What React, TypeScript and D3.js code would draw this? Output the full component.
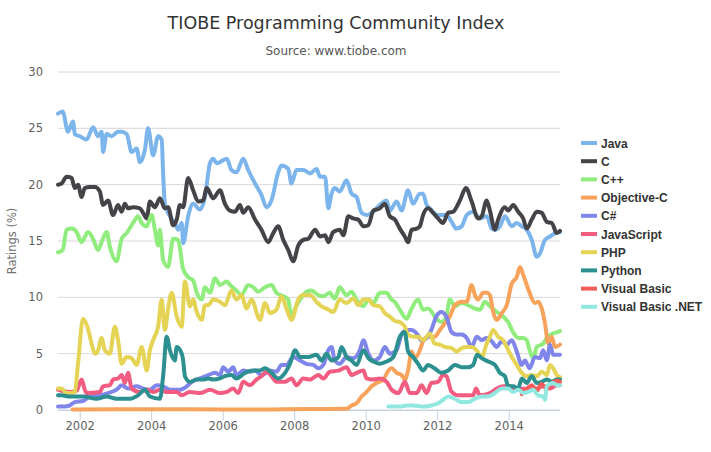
import * as d3 from 'd3';

// TIOBE ratings (%), [decimal year, rating]
const yearTicks = [2002, 2004, 2006, 2008, 2010, 2012, 2014];
const ratingTicks = [0, 5, 10, 15, 20, 25, 30];

const java: [number, number][] = [
  [2001.38, 26.3], [2001.51, 26.5], [2001.66, 24.7], [2001.8, 25.6], [2001.85, 24.5], [2001.99, 24.3], [2002.18, 24.0],
  [2002.36, 25.1], [2002.5, 24.3], [2002.6, 24.7], [2002.64, 22.9], [2002.74, 24.5], [2002.88, 24.3], [2003.06, 24.7],
  [2003.16, 24.7], [2003.3, 24.5], [2003.44, 22.9], [2003.58, 23.2], [2003.67, 22.0], [2003.81, 23.1], [2003.9, 25.0],
  [2004.04, 22.6], [2004.18, 24.3], [2004.28, 24.0], [2004.32, 21.0], [2004.37, 18.3], [2004.51, 17.2], [2004.65, 16.6],
  [2004.74, 16.0], [2004.84, 16.6], [2004.88, 14.8], [2005.02, 17.2], [2005.16, 18.3], [2005.35, 17.8], [2005.49, 18.9],
  [2005.63, 21.9], [2005.72, 22.3], [2005.82, 21.9], [2006.1, 22.3], [2006.23, 21.3], [2006.37, 21.1], [2006.56, 22.3],
  [2006.7, 21.3], [2006.89, 20.1], [2007.07, 19.1], [2007.21, 18.0], [2007.35, 18.6], [2007.54, 21.1], [2007.63, 21.7],
  [2007.82, 21.4], [2007.91, 20.1], [2008.05, 21.3], [2008.24, 21.3], [2008.43, 21.0], [2008.61, 21.4], [2008.71, 20.7],
  [2008.85, 20.7], [2008.94, 17.9], [2009.03, 19.2], [2009.12, 19.7], [2009.26, 19.4], [2009.45, 20.4], [2009.59, 19.2],
  [2009.73, 18.9], [2009.87, 17.5], [2010.01, 17.3], [2010.2, 17.6], [2010.38, 18.2], [2010.57, 18.6], [2010.66, 17.7],
  [2010.85, 18.5], [2010.99, 17.7], [2011.17, 19.5], [2011.31, 18.3], [2011.5, 19.2], [2011.59, 19.2], [2011.69, 18.2],
  [2011.78, 17.9], [2012.01, 17.3], [2012.24, 17.3], [2012.39, 16.7], [2012.52, 16.1], [2012.67, 16.3], [2012.81, 17.3],
  [2012.99, 17.6], [2013.18, 17.0], [2013.37, 17.2], [2013.51, 16.1], [2013.6, 16.0], [2013.74, 16.3], [2013.88, 17.2],
  [2014.07, 16.3], [2014.21, 16.6], [2014.35, 16.3], [2014.49, 16.0], [2014.63, 15.1], [2014.77, 13.6], [2014.86, 13.9],
  [2015.0, 15.1], [2015.14, 15.4], [2015.28, 15.7], [2015.42, 15.8]
];

const c: [number, number][] = [
  [2001.38, 20.0], [2001.48, 20.1], [2001.62, 20.7], [2001.76, 20.6], [2001.85, 19.7], [2001.94, 20.0], [2002.04, 18.9],
  [2002.13, 19.7], [2002.27, 19.8], [2002.41, 19.8], [2002.55, 19.4], [2002.64, 18.2], [2002.78, 18.6], [2002.92, 17.3],
  [2003.06, 18.2], [2003.16, 17.6], [2003.25, 18.3], [2003.34, 17.9], [2003.48, 18.0], [2003.67, 17.9], [2003.76, 17.5],
  [2003.86, 17.0], [2003.95, 18.5], [2004.09, 18.0], [2004.23, 18.8], [2004.37, 17.9], [2004.46, 18.0], [2004.6, 16.4],
  [2004.7, 16.9], [2004.79, 18.2], [2004.88, 18.0], [2005.02, 20.6], [2005.16, 19.5], [2005.3, 18.5], [2005.44, 18.6],
  [2005.54, 19.7], [2005.72, 18.8], [2005.91, 19.5], [2006.05, 18.3], [2006.19, 17.7], [2006.33, 17.6], [2006.47, 18.2],
  [2006.56, 17.5], [2006.7, 18.0], [2006.89, 16.9], [2007.07, 16.0], [2007.26, 14.9], [2007.4, 15.7], [2007.54, 16.3],
  [2007.68, 15.1], [2007.82, 14.2], [2007.96, 13.2], [2008.1, 14.6], [2008.24, 15.1], [2008.38, 15.2], [2008.57, 16.0],
  [2008.71, 15.4], [2008.85, 15.5], [2008.94, 14.9], [2009.08, 15.8], [2009.26, 16.0], [2009.36, 15.5], [2009.5, 17.2],
  [2009.64, 17.0], [2009.78, 16.9], [2009.92, 16.3], [2010.06, 16.4], [2010.2, 17.7], [2010.38, 17.9], [2010.52, 18.3],
  [2010.66, 17.2], [2010.8, 16.9], [2010.94, 16.1], [2011.08, 15.4], [2011.17, 14.9], [2011.27, 16.0], [2011.41, 16.1],
  [2011.5, 16.3], [2011.59, 17.3], [2011.73, 17.9], [2011.87, 17.5], [2012.01, 17.0], [2012.15, 16.6], [2012.29, 17.5],
  [2012.43, 17.6], [2012.62, 18.6], [2012.79, 19.7], [2012.95, 18.5], [2013.13, 17.0], [2013.23, 17.2], [2013.37, 18.6],
  [2013.46, 17.7], [2013.6, 16.0], [2013.69, 16.9], [2013.88, 18.0], [2013.97, 17.7], [2014.11, 18.2], [2014.25, 17.6],
  [2014.39, 17.0], [2014.49, 16.1], [2014.63, 16.9], [2014.77, 17.6], [2014.91, 17.5], [2015.05, 16.7], [2015.19, 16.6],
  [2015.33, 15.7], [2015.42, 15.9]
];

const cpp: [number, number][] = [
  [2001.38, 14.0], [2001.51, 14.2], [2001.62, 16.0], [2001.76, 16.1], [2001.9, 15.8], [2002.04, 14.9], [2002.22, 15.8],
  [2002.36, 15.2], [2002.5, 14.2], [2002.6, 14.9], [2002.74, 15.8], [2002.83, 14.5], [2003.02, 13.2], [2003.16, 15.2],
  [2003.3, 15.7], [2003.48, 16.6], [2003.62, 17.2], [2003.72, 16.6], [2003.86, 16.3], [2004.0, 17.3], [2004.09, 16.0],
  [2004.18, 14.6], [2004.23, 16.0], [2004.32, 13.3], [2004.46, 12.7], [2004.6, 15.2], [2004.74, 15.1], [2004.88, 12.5],
  [2005.02, 11.8], [2005.16, 11.5], [2005.26, 10.4], [2005.4, 9.8], [2005.49, 10.9], [2005.63, 10.4], [2005.77, 11.7],
  [2005.91, 11.1], [2006.1, 11.4], [2006.19, 11.1], [2006.37, 10.6], [2006.51, 10.2], [2006.7, 11.1], [2006.84, 10.9],
  [2006.98, 10.5], [2007.17, 10.9], [2007.35, 11.1], [2007.49, 10.4], [2007.68, 10.1], [2007.82, 9.8], [2007.91, 8.1],
  [2008.01, 9.0], [2008.15, 9.8], [2008.33, 10.5], [2008.47, 10.6], [2008.66, 10.2], [2008.8, 10.1], [2008.98, 10.4],
  [2009.12, 9.9], [2009.26, 10.9], [2009.45, 10.2], [2009.59, 10.5], [2009.73, 9.8], [2009.92, 9.2], [2010.06, 9.8],
  [2010.2, 9.5], [2010.38, 10.4], [2010.57, 10.4], [2010.71, 9.8], [2010.8, 9.6], [2010.94, 8.9], [2011.13, 8.1],
  [2011.27, 9.0], [2011.45, 9.8], [2011.59, 8.9], [2011.73, 9.0], [2011.96, 8.1], [2012.1, 7.8], [2012.24, 8.3],
  [2012.34, 9.8], [2012.48, 9.2], [2012.67, 9.5], [2012.85, 9.3], [2013.04, 9.0], [2013.18, 8.9], [2013.32, 9.6],
  [2013.46, 9.2], [2013.65, 8.7], [2013.83, 8.3], [2013.97, 7.8], [2014.11, 6.9], [2014.25, 6.4], [2014.39, 6.4],
  [2014.49, 6.2], [2014.57, 5.3], [2014.67, 4.6], [2014.77, 5.6], [2014.95, 5.9], [2015.05, 6.4], [2015.23, 6.8],
  [2015.33, 6.9], [2015.42, 7.0]
];

const objectiveC: [number, number][] = [
  [2001.79, 0.05], [2003.0, 0.06], [2005.0, 0.06], [2007.0, 0.05], [2008.5, 0.08], [2009.45, 0.1], [2009.59, 0.4],
  [2009.73, 0.6], [2009.87, 1.2], [2010.01, 1.6], [2010.15, 2.1], [2010.29, 2.4], [2010.48, 2.7], [2010.62, 3.5],
  [2010.71, 3.7], [2010.85, 3.3], [2010.99, 3.1], [2011.08, 2.7], [2011.17, 3.5], [2011.27, 5.2], [2011.36, 4.6],
  [2011.5, 5.3], [2011.59, 6.1], [2011.73, 6.5], [2011.91, 6.5], [2012.06, 7.1], [2012.2, 7.7], [2012.34, 8.3],
  [2012.48, 9.3], [2012.67, 9.6], [2012.81, 9.6], [2012.95, 11.1], [2013.04, 10.2], [2013.13, 9.8], [2013.27, 10.4],
  [2013.37, 10.4], [2013.46, 10.2], [2013.55, 8.7], [2013.65, 8.0], [2013.79, 8.6], [2013.93, 9.3], [2014.07, 11.2],
  [2014.21, 11.8], [2014.3, 12.7], [2014.39, 12.0], [2014.49, 11.1], [2014.57, 10.4], [2014.72, 9.5], [2014.81, 9.6],
  [2014.91, 9.0], [2015.0, 7.7], [2015.09, 5.9], [2015.19, 6.5], [2015.28, 5.6], [2015.42, 5.8]
];

const cSharp: [number, number][] = [
  [2001.38, 0.3], [2001.48, 0.3], [2001.66, 0.35], [2001.85, 0.7], [2002.08, 0.8], [2002.27, 1.2], [2002.55, 1.3],
  [2002.78, 1.5], [2003.02, 1.8], [2003.16, 2.2], [2003.34, 1.9], [2003.58, 2.1], [2003.76, 1.9], [2003.95, 1.8],
  [2004.14, 2.2], [2004.32, 2.1], [2004.51, 1.8], [2004.79, 1.8], [2004.98, 2.1], [2005.12, 2.5], [2005.35, 2.8],
  [2005.58, 3.1], [2005.77, 3.3], [2005.91, 3.1], [2006.0, 3.8], [2006.14, 3.4], [2006.28, 3.8], [2006.37, 3.1],
  [2006.56, 3.5], [2006.75, 3.4], [2006.89, 3.5], [2007.07, 3.1], [2007.31, 3.5], [2007.49, 3.4], [2007.63, 4.0],
  [2007.77, 4.0], [2007.96, 4.7], [2008.15, 4.4], [2008.33, 4.1], [2008.52, 4.0], [2008.66, 3.7], [2008.8, 4.0],
  [2008.94, 5.3], [2009.03, 5.6], [2009.12, 4.4], [2009.26, 4.1], [2009.45, 4.7], [2009.64, 4.6], [2009.82, 5.3],
  [2009.92, 6.2], [2010.06, 5.0], [2010.2, 4.4], [2010.38, 4.7], [2010.52, 5.6], [2010.66, 5.0], [2010.85, 5.3],
  [2010.99, 6.7], [2011.13, 7.1], [2011.27, 7.1], [2011.41, 6.8], [2011.55, 6.2], [2011.69, 6.4], [2011.82, 7.1],
  [2011.96, 8.3], [2012.1, 8.7], [2012.24, 8.3], [2012.39, 6.9], [2012.52, 6.7], [2012.67, 6.7], [2012.81, 6.4],
  [2012.95, 5.6], [2013.09, 6.5], [2013.23, 6.2], [2013.37, 6.4], [2013.51, 6.1], [2013.65, 5.6], [2013.79, 6.1],
  [2013.93, 5.8], [2014.07, 6.2], [2014.21, 5.2], [2014.35, 4.0], [2014.44, 4.4], [2014.57, 3.7], [2014.72, 4.7],
  [2014.86, 4.6], [2014.95, 5.3], [2015.05, 4.4], [2015.14, 5.8], [2015.23, 4.9], [2015.42, 4.9]
];

const javaScript: [number, number][] = [
  [2001.38, 1.8], [2001.71, 1.6], [2001.9, 1.7], [2002.04, 2.7], [2002.13, 1.8], [2002.18, 1.5], [2002.55, 1.6],
  [2002.64, 2.1], [2002.83, 2.2], [2002.92, 2.7], [2003.06, 2.8], [2003.16, 3.1], [2003.25, 2.4], [2003.34, 3.3],
  [2003.44, 1.9], [2003.67, 1.6], [2003.86, 1.8], [2004.04, 1.6], [2004.23, 1.8], [2004.42, 1.6], [2004.7, 1.6],
  [2004.84, 1.3], [2005.07, 1.6], [2005.35, 1.5], [2005.63, 1.8], [2005.91, 1.5], [2006.1, 1.6], [2006.28, 1.9],
  [2006.42, 1.5], [2006.56, 2.5], [2006.75, 2.2], [2006.93, 2.7], [2007.07, 3.0], [2007.21, 3.4], [2007.35, 3.0],
  [2007.49, 2.5], [2007.73, 2.5], [2007.91, 2.8], [2008.05, 2.2], [2008.24, 2.8], [2008.43, 2.7], [2008.66, 3.1],
  [2008.8, 2.8], [2008.98, 3.4], [2009.22, 3.5], [2009.45, 3.8], [2009.59, 3.1], [2009.73, 3.3], [2009.92, 3.5],
  [2010.01, 2.8], [2010.2, 2.7], [2010.38, 2.8], [2010.57, 2.5], [2010.71, 1.8], [2010.9, 1.5], [2011.08, 2.5],
  [2011.22, 1.5], [2011.41, 1.5], [2011.55, 2.2], [2011.69, 1.5], [2011.82, 2.4], [2012.01, 2.5], [2012.15, 3.1],
  [2012.24, 3.0], [2012.39, 1.6], [2012.57, 1.3], [2012.81, 1.3], [2012.99, 1.3], [2013.07, 1.9], [2013.18, 1.3],
  [2013.46, 1.5], [2013.65, 1.9], [2013.83, 2.1], [2014.02, 2.1], [2014.21, 1.8], [2014.39, 1.9], [2014.57, 1.8],
  [2014.77, 1.9], [2014.95, 2.1], [2015.14, 1.9], [2015.33, 2.2], [2015.42, 2.2]
];

const php: [number, number][] = [
  [2001.38, 1.9], [2001.48, 1.9], [2001.62, 1.5], [2001.76, 1.5], [2001.85, 1.6], [2001.94, 4.1], [2002.08, 8.1],
  [2002.22, 7.2], [2002.32, 5.9], [2002.41, 5.0], [2002.5, 5.3], [2002.6, 6.4], [2002.69, 5.3], [2002.83, 5.0],
  [2002.97, 7.4], [2003.06, 6.2], [2003.16, 4.1], [2003.3, 4.7], [2003.44, 4.6], [2003.58, 4.0], [2003.72, 5.6],
  [2003.86, 3.5], [2003.95, 5.3], [2004.04, 6.2], [2004.18, 7.4], [2004.28, 9.8], [2004.37, 7.1], [2004.46, 9.0],
  [2004.56, 10.4], [2004.7, 8.3], [2004.84, 7.4], [2004.93, 11.4], [2005.07, 9.2], [2005.16, 9.8], [2005.26, 8.7],
  [2005.4, 8.0], [2005.49, 9.3], [2005.58, 9.3], [2005.72, 9.8], [2005.91, 9.6], [2006.05, 9.3], [2006.23, 10.6],
  [2006.37, 9.8], [2006.51, 10.2], [2006.65, 9.0], [2006.79, 9.8], [2007.03, 8.0], [2007.17, 9.5], [2007.31, 8.6],
  [2007.49, 8.9], [2007.63, 10.1], [2007.77, 9.0], [2007.91, 8.0], [2008.1, 9.8], [2008.24, 10.2], [2008.43, 10.2],
  [2008.61, 9.6], [2008.75, 9.2], [2008.89, 9.0], [2009.08, 8.7], [2009.26, 9.8], [2009.45, 9.5], [2009.64, 9.9],
  [2009.78, 9.3], [2009.92, 9.8], [2010.06, 9.8], [2010.2, 9.3], [2010.38, 9.2], [2010.52, 8.6], [2010.66, 8.3],
  [2010.8, 7.9], [2010.94, 7.8], [2011.08, 7.4], [2011.17, 6.7], [2011.31, 6.5], [2011.45, 6.5], [2011.59, 6.2],
  [2011.78, 6.8], [2011.91, 5.9], [2012.06, 5.8], [2012.2, 5.6], [2012.39, 5.5], [2012.52, 5.2], [2012.67, 5.5],
  [2012.81, 5.6], [2012.95, 5.6], [2013.09, 5.3], [2013.23, 4.7], [2013.37, 5.9], [2013.46, 6.5], [2013.55, 7.1],
  [2013.69, 6.5], [2013.83, 6.2], [2013.93, 5.6], [2014.07, 4.7], [2014.21, 4.0], [2014.35, 3.3], [2014.49, 3.0],
  [2014.63, 3.1], [2014.77, 3.0], [2014.91, 3.4], [2015.05, 3.1], [2015.14, 4.0], [2015.23, 3.7], [2015.33, 3.1],
  [2015.42, 2.9]
];

const python: [number, number][] = [
  [2001.38, 1.3], [2001.48, 1.3], [2001.71, 1.2], [2002.08, 1.2], [2002.46, 1.0], [2002.74, 1.2], [2003.02, 1.0],
  [2003.39, 1.0], [2003.62, 1.3], [2003.81, 1.8], [2003.95, 1.2], [2004.23, 1.0], [2004.32, 3.0], [2004.42, 6.5],
  [2004.51, 5.3], [2004.65, 4.4], [2004.7, 5.6], [2004.84, 5.0], [2004.88, 4.4], [2004.93, 3.0], [2005.07, 2.5],
  [2005.26, 2.7], [2005.44, 2.7], [2005.58, 2.8], [2005.72, 2.7], [2005.91, 2.8], [2006.05, 3.0], [2006.23, 3.1],
  [2006.37, 2.8], [2006.61, 3.3], [2006.84, 3.5], [2007.03, 3.5], [2007.17, 3.7], [2007.35, 3.3], [2007.54, 2.8],
  [2007.73, 3.3], [2007.87, 4.1], [2008.01, 5.3], [2008.15, 4.7], [2008.38, 4.7], [2008.61, 4.9], [2008.75, 4.4],
  [2008.89, 5.0], [2009.03, 4.4], [2009.22, 4.7], [2009.31, 5.6], [2009.45, 4.7], [2009.59, 4.4], [2009.73, 4.0],
  [2009.92, 5.3], [2010.06, 4.6], [2010.2, 4.3], [2010.38, 4.1], [2010.57, 4.3], [2010.76, 4.7], [2010.8, 5.0],
  [2010.94, 6.5], [2011.08, 6.9], [2011.17, 5.2], [2011.31, 4.7], [2011.45, 4.1], [2011.59, 3.5], [2011.73, 4.0],
  [2011.91, 3.7], [2012.1, 3.3], [2012.29, 3.5], [2012.48, 4.0], [2012.67, 3.8], [2012.85, 3.8], [2012.99, 4.0],
  [2013.1, 4.9], [2013.23, 4.6], [2013.41, 4.3], [2013.6, 4.0], [2013.74, 3.3], [2013.88, 3.0], [2013.97, 2.1],
  [2014.11, 2.1], [2014.25, 1.9], [2014.35, 2.8], [2014.49, 2.4], [2014.63, 3.0], [2014.77, 2.4], [2014.91, 2.5],
  [2015.05, 2.7], [2015.19, 2.5], [2015.33, 2.7], [2015.42, 2.7]
];

const visualBasic: [number, number][] = [
  [2014.35, 1.4], [2014.5, 1.9], [2014.63, 2.2], [2014.77, 1.7], [2014.9, 2.3], [2015.05, 1.9], [2015.2, 2.4],
  [2015.33, 2.6], [2015.42, 2.5]
];

const visualBasicNet: [number, number][] = [
  [2010.62, 0.3], [2010.94, 0.3], [2011.13, 0.4], [2011.31, 0.4], [2011.59, 0.3], [2011.82, 0.4], [2012.01, 0.6],
  [2012.15, 0.9], [2012.29, 1.2], [2012.48, 1.0], [2012.67, 0.7], [2012.85, 0.7], [2013.04, 1.0], [2013.23, 1.2],
  [2013.41, 1.2], [2013.6, 1.5], [2013.79, 1.9], [2013.97, 1.9], [2014.11, 1.6], [2014.25, 1.8], [2014.39, 1.5],
  [2014.53, 1.6], [2014.67, 1.8], [2014.81, 1.3], [2014.95, 1.2], [2015.0, 0.9], [2015.05, 2.1], [2015.14, 2.3],
  [2015.23, 2.4], [2015.33, 2.2], [2015.42, 2.2]
];

const series = [
  { name: 'Java', color: '#7cb5ec', data: java },
  { name: 'C', color: '#434348', data: c },
  { name: 'C++', color: '#90ed7d', data: cpp },
  { name: 'Objective-C', color: '#f7a35c', data: objectiveC },
  { name: 'C#', color: '#8085e9', data: cSharp },
  { name: 'JavaScript', color: '#f15c80', data: javaScript },
  { name: 'PHP', color: '#e4d354', data: php },
  { name: 'Python', color: '#2b908f', data: python },
  { name: 'Visual Basic', color: '#f45b5b', data: visualBasic },
  { name: 'Visual Basic .NET', color: '#91e8e1', data: visualBasicNet }
];

export default function App() {
  const width = 711;
  const height = 452;
  const plot = { left: 58, right: 560, top: 72, bottom: 410 };

  const allYears = series.flatMap((s) => s.data.map((d) => d[0]));
  const x = d3.scaleLinear().domain(d3.extent(allYears) as [number, number]).range([plot.left, plot.right]);
  const y = d3.scaleLinear().domain([0, 30]).range([plot.bottom, plot.top]);

  const line = d3
    .line<[number, number]>()
    .x((d) => x(d[0]))
    .y((d) => y(d[1]))
    .curve(d3.curveMonotoneX);

  const font = '"DejaVu Sans", sans-serif';

  return (
    <svg
      width={width}
      height={height}
      style={{ position: 'absolute', left: 0, top: 0, background: '#fff' }}
      fontFamily={font}
    >
      <text x={336} y={29} textAnchor="middle" fontSize={17.5} fill="#333333">
        TIOBE Programming Community Index
      </text>
      <text x={336} y={55} textAnchor="middle" fontSize={12} fill="#555555">
        Source: www.tiobe.com
      </text>

      {/* grid + y labels */}
      {ratingTicks.map((t) => (
        <g key={t}>
          <line x1={plot.left} x2={plot.right} y1={y(t)} y2={y(t)} stroke="#d8d8d8" strokeWidth={1} />
          <text x={43} y={y(t) + 4} textAnchor="end" fontSize={11.5} fill="#606060">
            {t}
          </text>
        </g>
      ))}
      <text
        transform={`translate(16,${(plot.top + plot.bottom) / 2}) rotate(-90)`}
        textAnchor="middle"
        fontSize={11.5}
        fill="#707070"
      >
        Ratings (%)
      </text>

      {/* x axis */}
      <line x1={plot.left} x2={plot.right} y1={plot.bottom + 0.5} y2={plot.bottom + 0.5} stroke="#c0d0e0" />
      {yearTicks.map((t) => (
        <g key={t}>
          <line x1={x(t)} x2={x(t)} y1={plot.bottom} y2={plot.bottom + 10} stroke="#c0d0e0" />
          <text x={x(t)} y={429.5} textAnchor="middle" fontSize={11.5} fill="#606060">
            {t}
          </text>
        </g>
      ))}

      {/* series */}
      {series.map((s) => (
        <path
          key={s.name}
          d={line(s.data) ?? ''}
          fill="none"
          stroke={s.color}
          strokeWidth={4}
          strokeLinejoin="round"
          strokeLinecap="round"
        />
      ))}

      {/* legend */}
      {series.map((s, i) => {
        const ly = 143 + i * 18.2;
        return (
          <g key={s.name}>
            <line x1={581} x2={597} y1={ly} y2={ly} stroke={s.color} strokeWidth={4} />
            <text
              x={601}
              y={ly + 4.5}
              fontSize={12}
              fontWeight="bold"
              fontFamily='"Liberation Sans", Arial, sans-serif'
              fill="#333333"
            >
              {s.name}
            </text>
          </g>
        );
      })}
    </svg>
  );
}
